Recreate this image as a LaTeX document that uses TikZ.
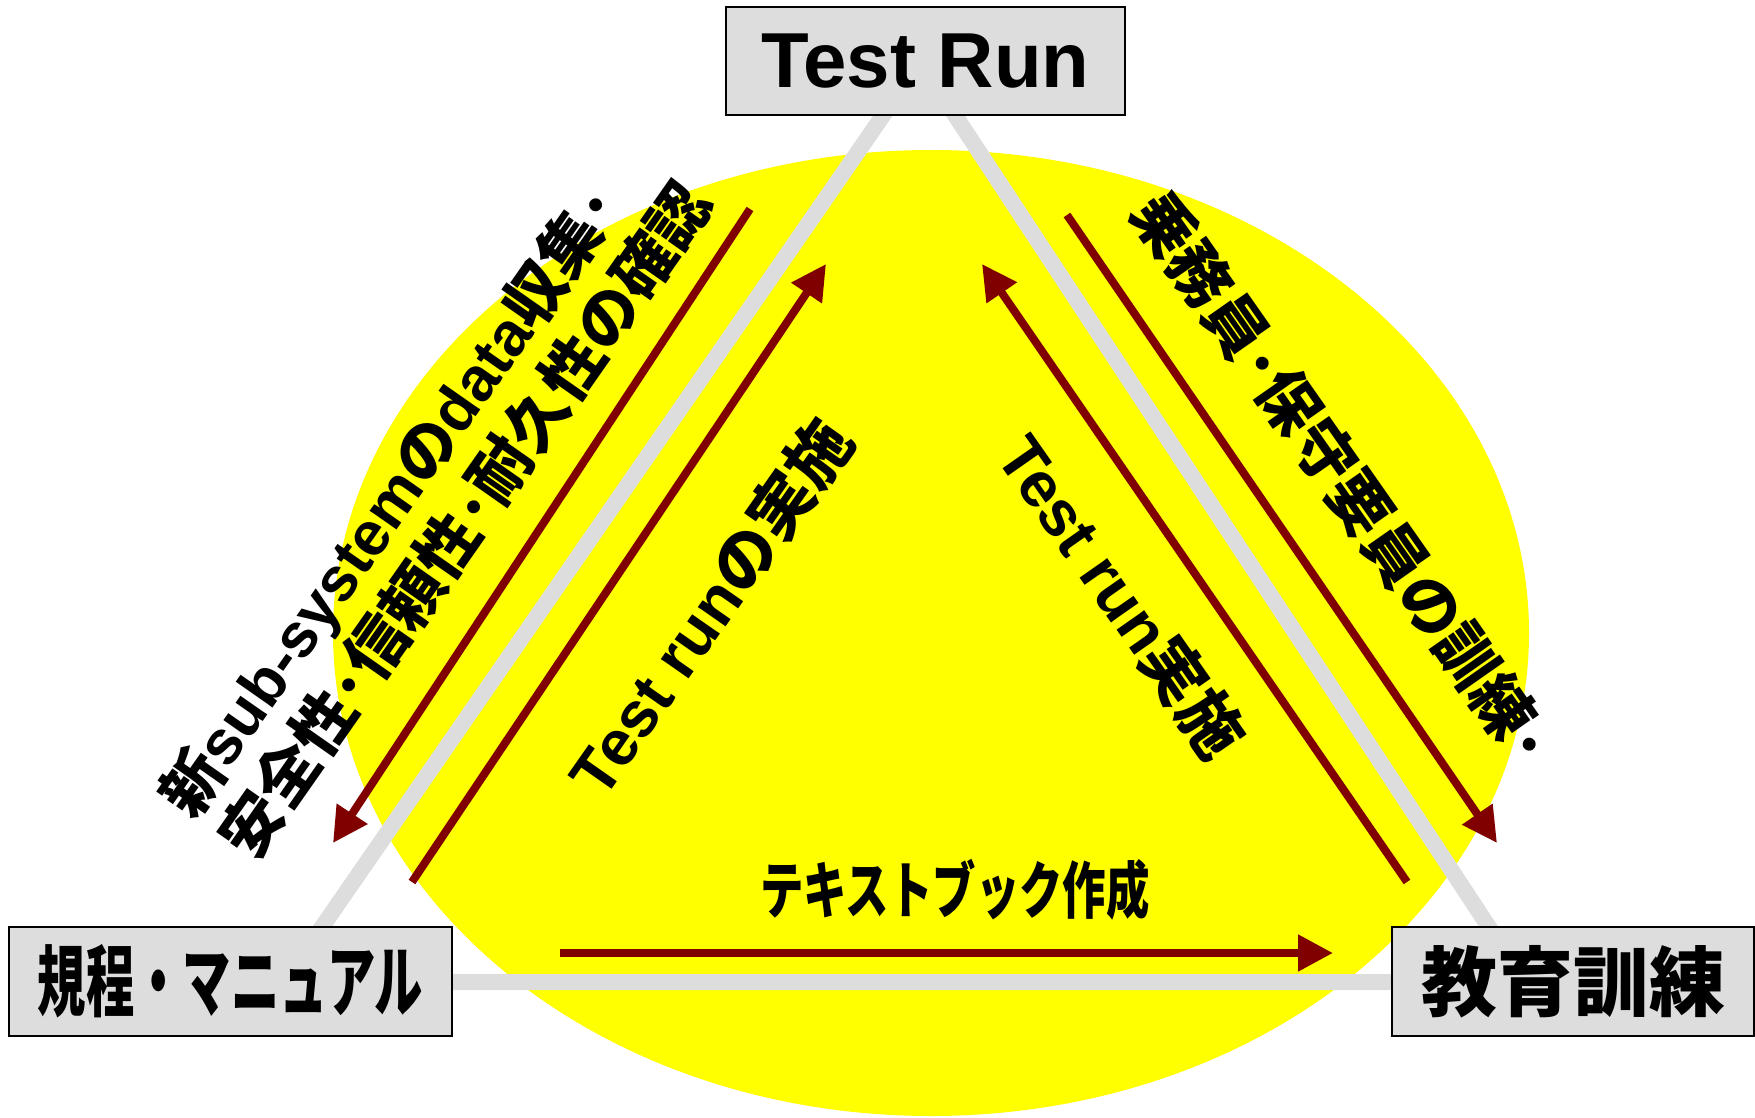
\documentclass[tikz,border=0pt]{standalone}
\usepackage{fontspec}
\setmainfont{Liberation Sans}
\newfontfamily\jp{Noto Sans CJK JP}
\usetikzlibrary{arrows.meta}
\definecolor{ylw}{HTML}{FFFF00}
\definecolor{lgray}{HTML}{DDDDDD}
\definecolor{dred}{HTML}{800000}
\newcommand{\J}[1]{{\jp\bfseries #1}}
\begin{document}
\begin{tikzpicture}[x=1pt,y=-1pt,
  box/.style={draw=black, line width=2pt, fill=lgray, inner sep=0pt},
  tri/.style={draw=lgray, line width=16pt},
  rarrow/.style={draw=dred, line width=8pt, -{Triangle[length=35pt,width=35pt]}},
  lbl/.style={inner sep=0pt, font=\bfseries}]
\useasboundingbox (0,0) rectangle (1755,1118);
\fill[ylw] (931,633) ellipse [x radius=598, y radius=483];
% triangle vertices
\coordinate (A) at (920,62);
\coordinate (B) at (284,982);
\coordinate (C) at (1525,982);
\draw[tri] (A) -- (B) -- (C) -- cycle;
% boxes
\node[box, minimum width=399pt, minimum height=108pt] (tr) at (925.5,61)
  {\fontsize{78}{90}\selectfont\bfseries Test Run};
\node[box, minimum width=443pt, minimum height=109pt] (lm) at (230.5,981.5) {};
\node[lbl, xscale=0.62] (lmt) at (lm.center) {\fontsize{78}{90}\selectfont\jp\bfseries 規程・マニュアル};
\node[box, minimum width=362pt, minimum height=109pt] (ed) at (1573,981.5)
  {\fontsize{76}{90}\selectfont\jp\bfseries 教育訓練};
% arrows
\coordinate (a1s) at (750,209);  \coordinate (a1e) at (333,843);
\coordinate (a2s) at (412,882);  \coordinate (a2e) at (826,264);
\coordinate (a3s) at (1407,882); \coordinate (a3e) at (982,264);
\coordinate (a4s) at (1067,215); \coordinate (a4e) at (1497,843);
\coordinate (a5s) at (560,953);  \coordinate (a5e) at (1333,953);
\draw[rarrow] (a1s) -- (a1e);
\draw[rarrow] (a2s) -- (a2e);
\draw[rarrow] (a3s) -- (a3e);
\draw[rarrow] (a4s) -- (a4e);
\draw[rarrow] (a5s) -- (a5e);
% labels
\node[lbl, rotate=55, align=left, font={\fontsize{62}{73}\selectfont\bfseries}] (t1) at (435,499)
  {\bfseries\J{新}sub-system\J{の}data\J{収集･}\\\bfseries\J{安全性･信頼性･耐久性の確認}};
\node[lbl, rotate=55, font={\fontsize{64}{72}\selectfont\bfseries}] (t2) at (710,607)
  {Test run\J{の実施}};
\node[lbl, rotate=-55, font={\fontsize{62}{72}\selectfont\bfseries}] (t3) at (1343,478)
  {\J{乗務員･保守要員の訓練･}};
\node[lbl, rotate=-55, font={\fontsize{64}{72}\selectfont\bfseries}] (t4) at (1122,596)
  {Test run\J{実施}};
\node[lbl, xscale=0.7, font={\fontsize{62}{72}\selectfont\bfseries}] (t5) at (955,890)
  {\J{テキストブック作成}};
\end{tikzpicture}
\end{document}
